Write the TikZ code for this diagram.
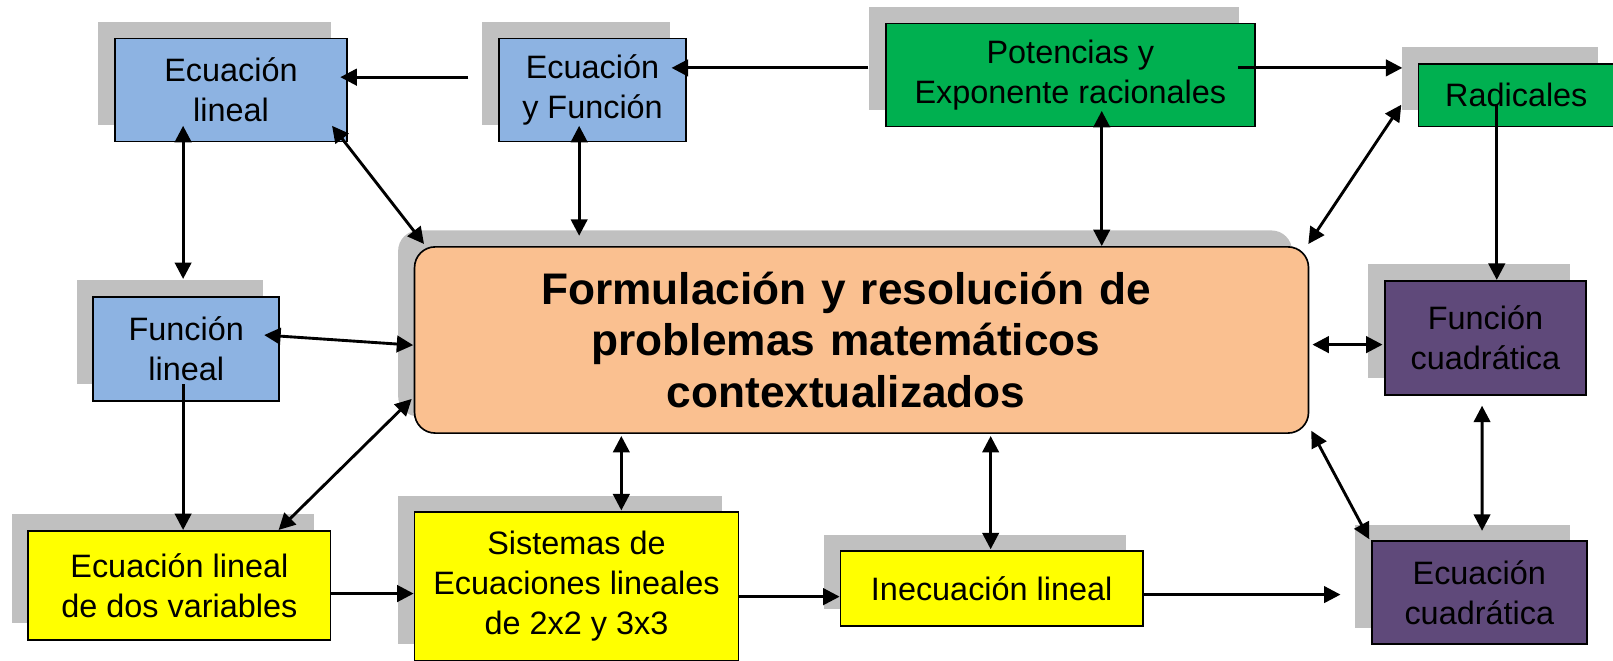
\documentclass[tikz,border=0pt]{standalone}
\usepackage{fontspec}
\setmainfont{Liberation Sans}
\usetikzlibrary{arrows.meta,positioning,shadows}

\definecolor{boxblue}{HTML}{8DB3E2}
\definecolor{boxgreen}{HTML}{00B050}
\definecolor{boxpurple}{HTML}{5F497A}
\definecolor{boxyellow}{HTML}{FFFF00}
\definecolor{boxorange}{HTML}{FAC090}
\definecolor{shadowgray}{HTML}{C0C0C0}

\begin{document}
\begin{tikzpicture}[x=0.5pt,y=-0.5pt,<->,>={Triangle[length=8pt,width=8pt]},line width=1.4pt,
                box/.style={draw,line width=0.8pt,inner sep=0pt,align=center,
                    font=\fontsize{15.75pt}{19.5pt}\selectfont,
                    drop shadow={shadow xshift=-8pt,shadow yshift=8pt,fill=shadowgray,opacity=1}},
                blue node/.style={box,fill=boxblue},
                green node/.style={box,fill=boxgreen},
                purple node/.style={box,fill=boxpurple},
                yellow node/.style={box,fill=boxyellow},
                main node/.style={draw,line width=0.8pt,inner sep=0pt,fill=boxorange,rounded corners=10pt,
                    drop shadow={shadow xshift=-8pt,shadow yshift=8pt,fill=shadowgray,opacity=1},
                    text width=434.5pt,execute at begin node={\centering\advance\rightskip by 15pt},
                    font=\fontsize{21.5pt}{25pt}\selectfont\bfseries}]
            \useasboundingbox (0,0) rectangle (1568,642);
            % top row
            \node[blue node,minimum width=113pt,minimum height=50pt] (1) at (224.5,87.5) {Ecuación\\lineal};
            \node[blue node,minimum width=91pt,minimum height=50pt] (2) at (576,87.5) {Ecuación\\y Función};
            \node[green node,minimum width=179.5pt,minimum height=50pt] (3) at (1040.5,73) {Potencias y\\Exponente racionales};
            \node[green node,minimum width=95pt,minimum height=30.5pt] (4) at (1474,92.5) {Radicales};
            % middle row
            \node[blue node,minimum width=90.5pt,minimum height=50.5pt] (5) at (181,339) {Función\\lineal};
            \node[main node,minimum height=90.5pt] (6) at (837.5,330.5) {Formulación y resolución de\\problemas matemáticos\\contextualizados};
            \node[purple node,minimum width=97.75pt,minimum height=55.5pt] (7) at (1444,328.4) {Función\\cuadrática};
            % bottom row
            \node[yellow node,minimum width=147pt,minimum height=53pt] (8) at (174.4,569) {Ecuación lineal\\de dos variables};
            \node[yellow node,minimum width=157.5pt,minimum height=72pt] (9) at (560.4,570) {Sistemas de\\Ecuaciones lineales\\de 2x2 y 3x3};
            \node[yellow node,minimum width=147pt,minimum height=36.25pt] (10) at (964,572) {Inecuación lineal};
            \node[purple node,minimum width=104.5pt,minimum height=50pt] (11) at (1438,576) {Ecuación\\cuadrática};
            \path
                ([shift={(-29,-12.5)}]2.west) edge[->] ([shift={(-7.5,-12.5)}]1.east)
                ([shift={(-16,-7)}]3.west) edge[->] ([shift={(-15,-21.5)}]2.east)
                ([shift={(-17,-7)}]3.east) edge[->] ([shift={(-15,-26.5)}]4.west)
                ([shift={(-46.5,-16)}]1.south) edge ([shift={(-3,-16.5)}]5.north)
                ([shift={(-15.5,-16)}]1.south east) edge ([shift={(10,-2)}]6.north west)
                ([shift={(-13,-16)}]2.south) edge ([shift={(-274.5,-10)}]6.north)
                ([shift={(30.5,-16)}]3.south) edge ([shift={(233.5,0)}]6.north)
                ([shift={(-16,-22)}]4.south west) edge ([shift={(-1,-2)}]6.north east)
                ([shift={(-19,-23)}]4.south) edge[->] ([shift={(11,0)}]7.north)
                ([shift={(-15.5,-13.3)}]5.east) edge ([shift={(-0.5,5)}]6.west)
                ([shift={(3,4.5)}]6.east) edge ([shift={(-1.5,6.6)}]7.west)
                ([shift={(-3,-17)}]5.south) edge[->] ([shift={(3.6,0)}]8.north)
                ([shift={(-51.4,0)}]8.north east) edge ([shift={(-2,-34)}]6.south west)
                ([shift={(-1.4,8)}]8.east) edge[->] ([shift={(0,7)}]9.west)
                ([shift={(-233.5,2)}]6.south) edge ([shift={(43.6,-1)}]9.north)
                ([shift={(0,10)}]9.east) edge[->] ([shift={(0,8)}]10.west)
                ([shift={(125.5,2)}]6.south) edge ([shift={(-1,-1)}]10.north)
                ([shift={(0,6)}]10.east) edge[->] ([shift={(-29.6,2)}]11.west)
                ([shift={(2,-3)}]6.south east) edge ([shift={(-1.6,-1)}]11.north west)
                ([shift={(-3.3,9.7)}]7.south) edge ([shift={(2.7,-9.2)}]11.north);
        \end{tikzpicture}
\end{document}
